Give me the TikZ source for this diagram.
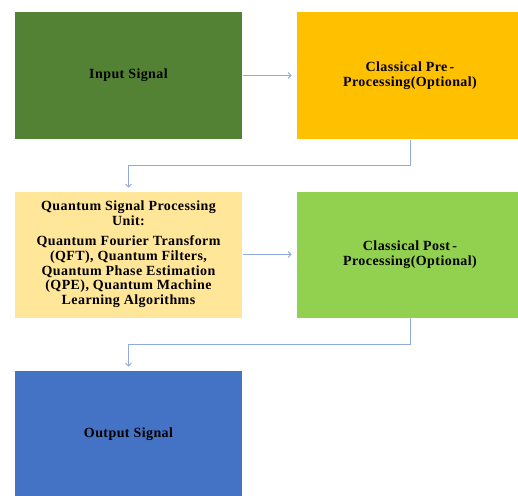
\documentclass[tikz,border=0pt]{standalone}
\usepackage{fontspec}
\setmainfont{Liberation Serif}[LetterSpace=3]
\usetikzlibrary{arrows.meta}
\definecolor{cdkgreen}{HTML}{548235}
\definecolor{corange}{HTML}{FFC000}
\definecolor{cyellow}{HTML}{FFE699}
\definecolor{cltgreen}{HTML}{92D050}
\definecolor{cblue}{HTML}{4472C4}
\definecolor{carrow}{HTML}{8FAADC}
\begin{document}
\begin{tikzpicture}[x=1pt,y=-1pt,
  box/.style={draw=white,line width=0.6pt,minimum width=228pt,minimum height=128pt,inner sep=0pt,
    align=center,font=\fontsize{14}{14.8}\selectfont\bfseries},
  conn/.style={draw=carrow,line width=0.9pt,-{Straight Barb[length=3pt,width=6pt]}}]
\useasboundingbox (0,0) rectangle (518,495);
\clip (0,0) rectangle (518,495);
\fill[white] (0,0) rectangle (518,495);
\node[box,fill=cdkgreen] (in) at (128.5,75.5) {Input Signal};
\node[box,fill=corange] (pre) at (410,75.5) {Classical Pre\,-\\Processing(Optional)};
\node[box,fill=cyellow,minimum height=127pt] (qspu) at (128.5,254.5) {Quantum Signal Processing\\Unit:\\[5pt]Quantum Fourier Transform\\(QFT), Quantum Filters,\\Quantum Phase Estimation\\(QPE), Quantum Machine\\Learning Algorithms};
\node[box,fill=cltgreen,minimum height=127pt] (post) at (410,254.5) {Classical Post\,-\\Processing(Optional)};
\node[box,fill=cblue] (out) at (128.5,434) {Output Signal};
\draw[conn,shorten >=4pt] (in.east) -- (pre.west);
\draw[conn,shorten >=4pt] (qspu.east) -- (post.west);
\draw[conn,shorten >=3pt] (pre.south) -- ++(0,26) -| (qspu.north);
\draw[conn,shorten >=3pt] (post.south) -- ++(0,26) -| (out.north);
\end{tikzpicture}
\end{document}
